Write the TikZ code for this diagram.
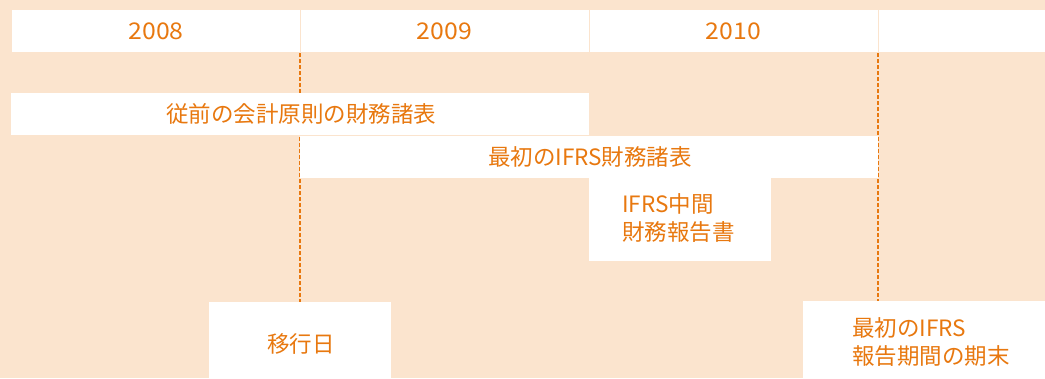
\documentclass[tikz,border=0pt]{standalone}
\usepackage{fontspec}
\setmainfont{Noto Sans CJK JP}
\newfontfamily\yearfont[FakeStretch=1.08]{Noto Sans CJK JP}
\definecolor{bgpeach}{HTML}{FBE4CE}
\definecolor{txtorange}{HTML}{E8780F}
\begin{document}
\begin{tikzpicture}[x=1pt,y=-1pt,
  lbl/.style={text=txtorange, font=\fontsize{22.5}{28}\selectfont, inner sep=0pt},
  yearlbl/.style={text=txtorange, font=\yearfont\fontsize{23}{26}\selectfont, inner sep=0pt},
  sep/.style={draw=bgpeach, line width=1pt},
  dashline/.style={draw=txtorange, line width=1.3pt, dash pattern=on 3.5pt off 2.5pt}]
\fill[bgpeach] (0,0) rectangle (1045,378);
\useasboundingbox (0,0) rectangle (1045,378);
% header
\fill[white] (12,10) rectangle (1045,52);
\draw[sep] (300,10) -- (300,52);
\draw[sep] (589,10) -- (589,52);
\draw[sep] (878,10) -- (878,52);
\node[yearlbl] (y2008) at (156,31) {2008};
\node[yearlbl] (y2009) at (444.5,31) {2009};
\node[yearlbl] (y2010) at (733.5,31) {2010};
% dashed lines
\coordinate (d1top) at (300,53);
\coordinate (d2top) at (878,53);
\coordinate (d1bot) at (300,302);
\coordinate (d2bot) at (878,301);
\draw[dashline] (d1top) -- (d1bot);
\draw[dashline] (d2top) -- (d2bot);
% bars
\fill[white] (11,93) rectangle (589,135);
\node[lbl] (prev) at (301,114) {従前の会計原則の財務諸表};
\fill[white] (300,136) rectangle (878,178);
\node[lbl] (first) at (590,157) {最初のIFRS財務諸表};
\fill[white] (589,178) rectangle (771,261);
\node[lbl, align=left, anchor=west] (interim) at (622,218) {IFRS中間\\財務報告書};
\fill[white] (209,302) rectangle (391,378);
\node[lbl] (trans) at (301,344) {移行日};
\fill[white] (803,301) rectangle (1045,378);
\node[lbl, align=left, anchor=west] (endp) at (852,342) {最初のIFRS\\報告期間の期末};
\end{tikzpicture}
\end{document}
